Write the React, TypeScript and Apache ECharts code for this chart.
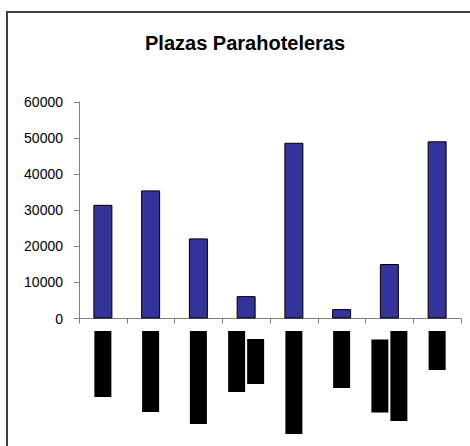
import React, { useEffect, useRef } from "react";
import * as echarts from "echarts";

const titleText = "Plazas Parahoteleras";
const categories = ["1", "2", "3", "4", "5", "6", "7", "8"];
const plazas = [31500, 35500, 22200, 6200, 48700, 2600, 15100, 49100];
const yTicks = { min: 0, max: 60000, interval: 10000 };
// Redacted category labels: lengths of each rotated text line (drawn as black blocks)
const labelLines: number[][] = [[66], [81], [93], [61, 45], [103], [57], [73, 90], [39]];

export default function App() {
  const ref = useRef<HTMLDivElement>(null);
  useEffect(() => {
    if (!ref.current) return;
    const chart = echarts.init(ref.current, null, { renderer: "svg" });
    const font = "'Liberation Sans', Arial, sans-serif";
    chart.setOption({
      animation: false,
      backgroundColor: "#ffffff",
      title: {
        text: titleText,
        left: 140,
        top: 28,
        textStyle: { fontFamily: font, fontSize: 20, fontWeight: "bold", color: "#000" },
      },
      grid: { left: 79, right: 9, top: 102, bottom: 127.5, containLabel: false },
      xAxis: {
        type: "category",
        data: categories,
        boundaryGap: true,
        axisLine: { show: true, lineStyle: { color: "#808080", width: 1 } },
        axisTick: { show: true, length: 5, alignWithLabel: false, lineStyle: { color: "#808080" } },
        axisLabel: { show: false },
        splitLine: { show: false },
      },
      yAxis: {
        type: "value",
        min: yTicks.min,
        max: yTicks.max,
        interval: yTicks.interval,
        axisLine: { show: true, lineStyle: { color: "#808080", width: 1 } },
        axisTick: { show: true, length: 5, lineStyle: { color: "#808080" } },
        axisLabel: {
          fontFamily: font,
          fontSize: 14,
          color: "#000",
          margin: 16,
          formatter: (v: number) => String(v),
        },
        splitLine: { show: false },
      },
      series: [
        {
          type: "bar",
          data: plazas,
          barWidth: 19,
          itemStyle: { color: "#333399", borderColor: "#000", borderWidth: 1 },
        },
        {
          type: "custom",
          silent: true,
          clip: false,
          data: categories.map((_, i) => [i, 0]),
          renderItem: (params: any, api: any) => {
            const idx = params.dataIndex;
            const lines = labelLines[idx];
            const pt = api.coord([idx, 0]);
            const cx = pt[0];
            const axisY = pt[1];
            const w = 17;
            const pitch = 19;
            const total = lines.length * pitch - 2;
            const maxLen = Math.max(...lines);
            const cy = axisY + 12.5 + maxLen / 2;
            const x0 = cx - total / 2;
            return {
              type: "group",
              children: lines.map((len, j) => ({
                type: "rect",
                shape: { x: x0 + j * pitch, y: cy - len / 2, width: w, height: len },
                style: { fill: "#000" },
              })),
            };
          },
        },
      ],
      graphic: [
        {
          type: "rect",
          shape: { x: 7, y: 12, width: 500, height: 480 },
          style: { fill: "none", stroke: "#404040", lineWidth: 2 },
          silent: true,
        },
      ],
    });
    return () => chart.dispose();
  }, []);
  return (
    <div
      ref={ref}
      style={{ position: "fixed", left: 0, top: 0, width: 470, height: 446 }}
    />
  );
}
